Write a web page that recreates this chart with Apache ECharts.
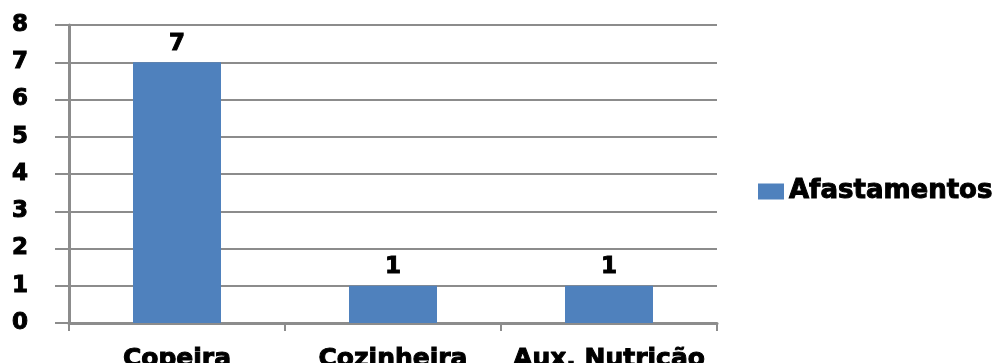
<!DOCTYPE html>
<html>
<head>
<meta charset="utf-8">
<script src="https://cdn.jsdelivr.net/npm/echarts@6/dist/echarts.min.js"></script>
<style>
  html, body { margin: 0; padding: 0; background: #fff; }
  #chart { width: 1007px; height: 363px; }
</style>
</head>
<body>
<div id="chart"></div>
<script>
// Chart data
const categories = ["Copeira", "Cozinheira", "Aux. Nutrição"];
const afastamentos = [7, 1, 1];
const seriesName = "Afastamentos";

const font = "'DejaVu Sans', Verdana, sans-serif";
const gridColor = "#8c8c8c";
// heavy text like the original picture
const heavy = { fontFamily: font, fontWeight: "bold", color: "#000", textBorderColor: "#000", textBorderWidth: 1 };

const chart = echarts.init(document.getElementById("chart"), null, { renderer: "canvas" });

chart.setOption({
  animation: false,
  textStyle: { fontFamily: font },
  grid: { left: 69, right: 290, top: 25, bottom: 40, containLabel: false, outerBoundsMode: "none" },
  legend: {
    data: [seriesName],
    left: 753,
    top: 173,
    itemWidth: 26,
    itemHeight: 16,
    itemGap: 8,
    icon: "rect",
    textStyle: Object.assign({ fontSize: 26 }, heavy),
  },
  xAxis: {
    type: "category",
    data: categories,
    axisLine: { lineStyle: { color: gridColor, width: 3 } },
    axisTick: { show: true, length: 8, lineStyle: { color: gridColor, width: 2 } },
    axisLabel: Object.assign({ fontSize: 25, margin: 24, interval: 0 }, heavy),
  },
  yAxis: {
    type: "value",
    min: 0,
    max: 8,
    interval: 1,
    axisLine: { show: true, lineStyle: { color: gridColor, width: 3 } },
    axisTick: { show: true, length: 14, lineStyle: { color: gridColor, width: 2 } },
    splitLine: { lineStyle: { color: gridColor, width: 2 } },
    axisLabel: Object.assign({ fontSize: 23, margin: 57, align: "left" }, heavy),
  },
  series: [
    {
      name: seriesName,
      type: "bar",
      data: afastamentos,
      barWidth: 88,
      itemStyle: { color: "#4f81bd" },
      label: Object.assign({ show: true, position: "top", distance: 7, fontSize: 23 }, heavy),
    },
  ],
});
</script>
</body>
</html>
